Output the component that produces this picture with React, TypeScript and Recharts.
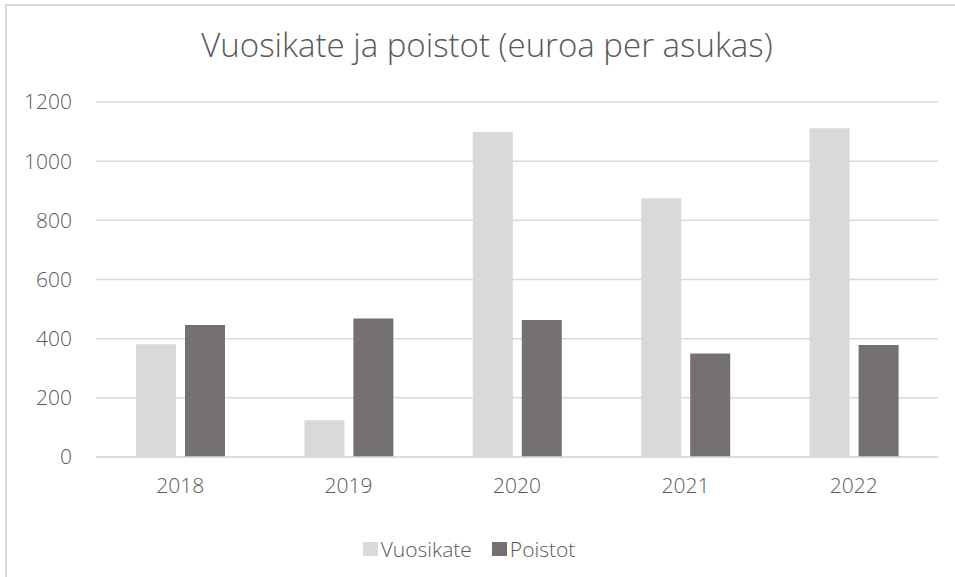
import React from 'react';
import { BarChart, Bar, XAxis, YAxis, CartesianGrid, Legend } from 'recharts';

const years = ['2018', '2019', '2020', '2021', '2022'];
const vuosikate = [381, 124, 1099, 875, 1111];
const poistot = [446, 468, 463, 350, 379];
const yTicks = [0, 200, 400, 600, 800, 1000, 1200];
const seriesOrder = ['Vuosikate', 'Poistot'];

const FONT = '"Open Sans", "Noto Sans", sans-serif';
const TEXT = '#595959';

const data = years.map((year, i) => ({
  year,
  Vuosikate: vuosikate[i],
  Poistot: poistot[i],
}));

const renderLegend = (props: any) => {
  const items = [...props.payload].sort(
    (a: any, b: any) => seriesOrder.indexOf(a.value) - seriesOrder.indexOf(b.value)
  );
  return (
    <div style={{ display: 'flex', justifyContent: 'center', alignItems: 'center', fontFamily: FONT, fontWeight: 300 }}>
      {items.map((entry: any, i: number) => (
        <div key={`item-${i}`} style={{ display: 'flex', alignItems: 'center', marginRight: i === 0 ? 20 : 0 }}>
          <span style={{ display: 'inline-block', width: 15, height: 14, background: entry.color, marginRight: 3 }} />
          <span style={{ fontSize: 21, color: TEXT }}>{entry.value}</span>
        </div>
      ))}
    </div>
  );
};

const App: React.FC = () => {
  return (
    <div style={{ position: 'absolute', left: 0, top: 0, width: 955, height: 577, overflow: 'hidden', background: '#fff' }}>
      <div style={{ position: 'absolute', left: 5, top: 4, width: 980, height: 600, border: '2px solid #d9d9d9', boxSizing: 'border-box' }} />
      <div
        style={{
          position: 'absolute',
          left: 0,
          top: 23,
          width: 974,
          textAlign: 'center',
          fontFamily: FONT,
          fontWeight: 300,
          fontSize: 33,
          color: TEXT,
          lineHeight: '44px',
        }}
      >
        Vuosikate ja poistot (euroa per asukas)
      </div>
      <div style={{ position: 'absolute', left: 0, top: 0 }}>
        <BarChart
          width={955}
          height={577}
          data={data}
          margin={{ top: 102, right: 17, left: 0, bottom: 6 }}
          barCategoryGap={40}
          barGap={9}
        >
          <CartesianGrid vertical={false} stroke="#d9d9d9" strokeWidth={1.5} />
          <XAxis
            dataKey="year"
            axisLine={{ stroke: '#d9d9d9', strokeWidth: 1.5 }}
            tickLine={false}
            tickSize={0}
            tickMargin={21}
            height={78}
            tick={{ fill: TEXT, fontSize: 21, fontFamily: FONT, fontWeight: 300 }}
          />
          <YAxis
            domain={[0, 1200]}
            ticks={yTicks}
            axisLine={false}
            tickLine={false}
            tickSize={0}
            tickMargin={24}
            width={96}
            tick={{ fill: TEXT, fontSize: 21, fontFamily: FONT, fontWeight: 300 }}
          />
          <Legend verticalAlign="bottom" height={36} content={renderLegend} />
          <Bar dataKey="Vuosikate" fill="#d9d9d9" isAnimationActive={false} />
          <Bar dataKey="Poistot" fill="#767171" isAnimationActive={false} />
        </BarChart>
      </div>
    </div>
  );
};

export default App;
